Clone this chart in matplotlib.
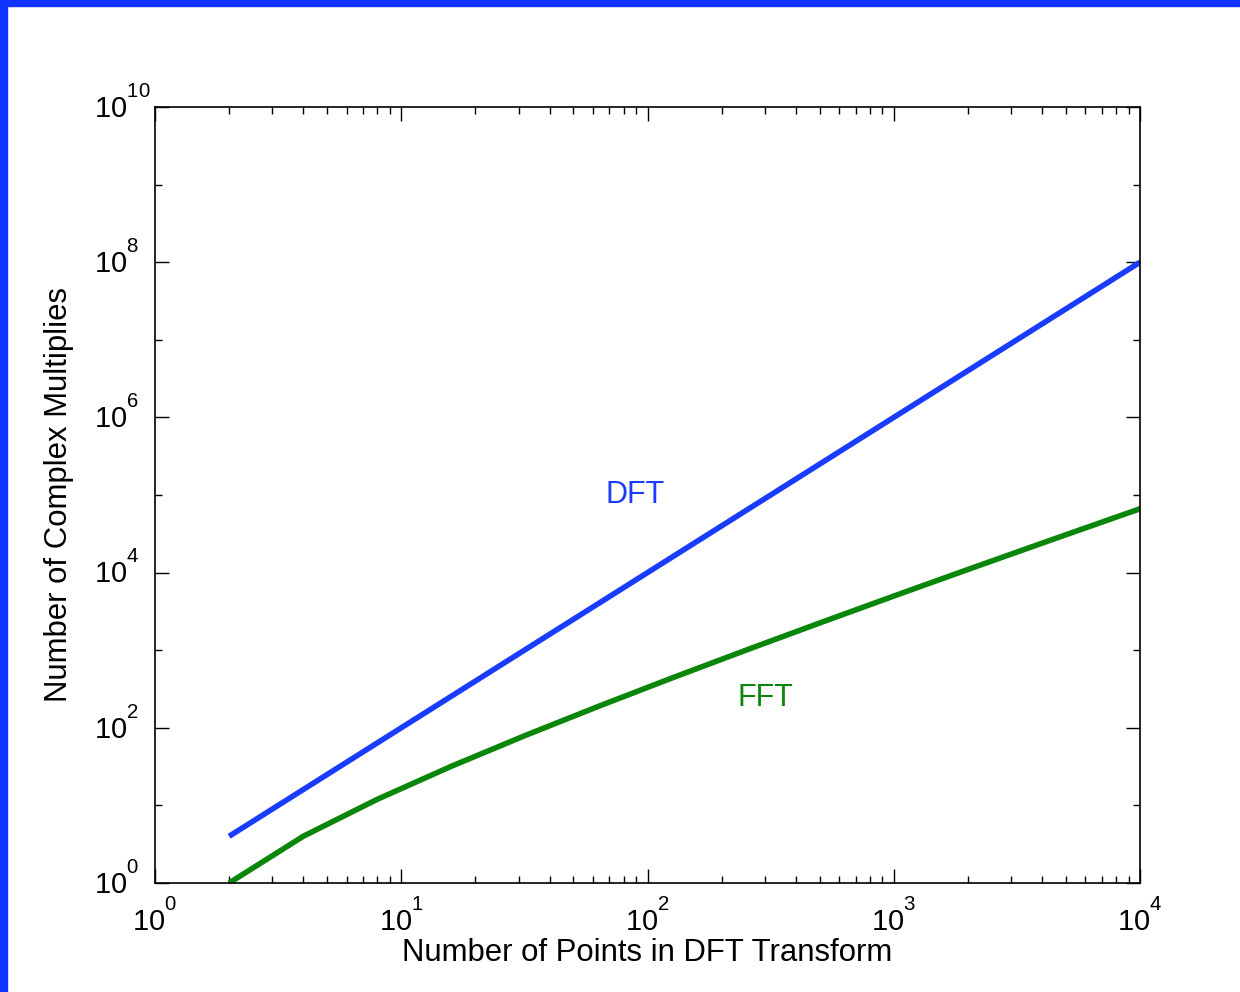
import matplotlib
matplotlib.use("Agg")
import matplotlib.pyplot as plt
import matplotlib._mathtext as mt
from matplotlib.transforms import ScaledTranslation
from matplotlib.ticker import LogLocator, NullFormatter, FixedLocator

plt.rcParams['font.family'] = ['Liberation Sans', 'DejaVu Sans']
plt.rcParams['mathtext.fontset'] = 'custom'
plt.rcParams['mathtext.rm'] = 'Liberation Sans'
# raise the exponents like the old MATLAB tick labels
mt.FontConstantsBase.sup1 = 1.25

# number of points N
n_points = [2, 4, 8, 16, 32, 64, 128, 256, 512, 1024, 2048, 4096, 8192, 10000]
# complex multiplies, direct DFT
dft_mults = [4, 16, 64, 256, 1024, 4096, 16384, 65536, 262144, 1048576,
             4194304, 16777216, 67108864, 100000000]
# complex multiplies, radix-2 FFT
fft_mults = [1, 4, 12, 32, 80, 192, 448, 1024, 2304, 5120,
             11264, 24576, 53248, 66439]

fig = plt.figure(figsize=(12.4, 9.92), dpi=100)
fig.patch.set_facecolor('white')

# blue frame of the slide (top and left edges)
fig.add_artist(plt.Rectangle((0, 1 - 6 / 992), 1, 6 / 992, transform=fig.transFigure,
                             color='#1033ff', zorder=10))
fig.add_artist(plt.Rectangle((0, 0), 7 / 1240, 1, transform=fig.transFigure,
                             color='#1033ff', zorder=10))

ax = fig.add_axes([155 / 1240, 109 / 992, 985 / 1240, 776 / 992])
ax.loglog(n_points, dft_mults, color='#1a3cff', lw=4, solid_capstyle='butt')
ax.loglog(n_points, fft_mults, color='#0a870a', lw=4, solid_capstyle='butt')

ax.set_xlim(1, 1e4)
ax.set_ylim(1, 1e10)

ax.xaxis.set_major_locator(FixedLocator([1, 10, 100, 1000, 10000]))
ax.xaxis.set_minor_locator(LogLocator(base=10, subs=range(2, 10)))
ax.xaxis.set_minor_formatter(NullFormatter())
ax.yaxis.set_major_locator(FixedLocator([1, 1e2, 1e4, 1e6, 1e8, 1e10]))
ax.yaxis.set_minor_locator(FixedLocator([1e1, 1e3, 1e5, 1e7, 1e9]))
ax.yaxis.set_minor_formatter(NullFormatter())

ax.tick_params(which='both', direction='in', top=True, right=True,
               labelsize=21, width=1)
ax.tick_params(axis='x', pad=11)
ax.tick_params(axis='y', pad=44)
ax.tick_params(which='major', length=10)
ax.tick_params(which='minor', length=5)
for s in ax.spines.values():
    s.set_linewidth(1.2)

# y labels: the "10" sits in a fixed column centred on the tick,
# exponent hangs to the right
shift = ScaledTranslation(0, -7 / 72, fig.dpi_scale_trans)
for lab in ax.get_yticklabels():
    lab.set_horizontalalignment('left')
    lab.set_verticalalignment('baseline')
    lab.set_transform(lab.get_transform() + shift)

ax.set_xlabel('Number of Points in DFT Transform', fontsize=22.4, labelpad=1)
ax.set_ylabel('Number of Complex Multiplies', fontsize=22.4, labelpad=14)

ax.text(89, 1.0e5, 'DFT', color='#1a3cff', fontsize=22, ha='center', va='center')
ax.text(300, 240, 'FFT', color='#0a870a', fontsize=22, ha='center', va='center')

fig.savefig('out.png', dpi=100, facecolor='white')
